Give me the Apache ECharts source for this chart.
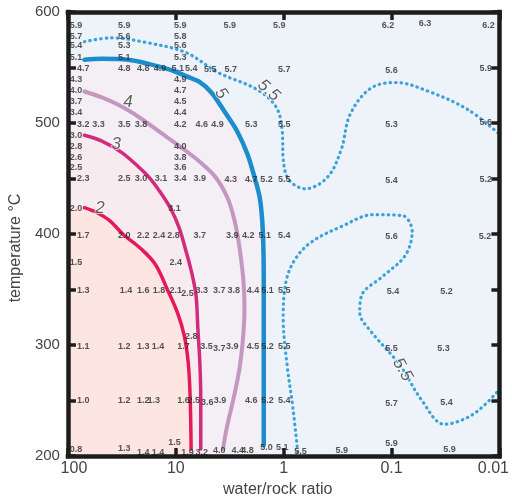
<!DOCTYPE html>
<html><head><meta charset="utf-8">
<script src="https://cdn.jsdelivr.net/npm/echarts@6/dist/echarts.min.js"></script>
<style>html,body{margin:0;padding:0;background:#fff}#c{width:512px;height:503px}</style>
</head><body><div id="c"></div>
<script>
// ---- axis ticks ----
const xTicks = [100, 10, 1, 0.1, 0.01];
const yTicks = [200, 300, 400, 500, 600];

// ---- contour lines: [water/rock ratio, temperature] ----
const contour2 = [[70.3,423.7],[53.7,419.2],[41.0,412.1],[30.7,399.6],[21.2,387],[15.5,372.7],[11.9,349.4],[9.64,328.9],[8.34,308.3],[7.67,284.1],[7.36,252.8],[7.21,206.3]];
const contour3 = [[70.3,489],[48.4,483.7],[32.1,473.8],[22.1,460.4],[17.2,449.7],[13.4,435.3],[10.9,421],[9.25,404.9],[8.17,387],[7.21,367.3],[6.5,345],[6.25,315.4],[6.0,285.9],[5.87,252.8],[5.87,206.3]];
const contour4 = [[70.3,528.4],[48.4,523],[32.1,515],[21.2,504.3],[14.0,491.7],[9.25,479.2],[6.12,465.8],[4.31,451.5],[3.29,431.8],[2.84,411.2],[2.56,387],[2.36,357.5],[2.31,333.3],[2.36,311],[2.56,279.6],[2.9,252.8],[3.36,226],[3.65,206.3]];
const contour5 = [[70.3,557],[48.4,557.9],[27.7,557],[18.3,553.5],[11.4,548.1],[7.84,541.8],[6.12,537.4],[4.68,527.5],[3.5,509.6],[2.67,491.7],[2.17,472],[1.88,452.3],[1.66,431.8],[1.56,402.2],[1.53,357.5],[1.53,297.5],[1.53,209.8]];
const contour55a = [[70.3,573.2],[39.4,576.7],[18.3,572.3],[8.0,563.3],[4.05,545.4],[1.77,530.2],[1.17,514.1],[1.03,491.7],[1.01,467.6],[0.893,448.8],[0.628,440.7],[0.39,451.5],[0.292,476.5],[0.242,507.8],[0.157,531.1],[0.0916,536.5],[0.0453,528.4],[0.0198,512.3],[0.01,489.9]];
const contour55b = [[0.741,203.6],[0.822,243.8],[0.931,282.3],[1.01,324.4],[0.95,357.5],[0.773,378.1],[0.543,393.3],[0.292,406.7],[0.148,417.4],[0.0793,416.6],[0.0644,402.2],[0.0745,380.8],[0.12,362],[0.189,345],[0.197,328.9],[0.157,312.8],[0.0843,282.3],[0.0524,250.1],[0.0325,228.6],[0.0175,237.6],[0.01,260]];

// contour labels: [w/r, T, text, rotation]
const contourLabels = [[50.5,422.8,'2',0],[35.6,481,'3',0],[27.7,518.6,'4',0],[3.8,526.6,'5',-55],[1.38,529.3,'5.5',-42],[0.0793,277.9,'5.5',-60]];

// ---- computed values at grid points: [w/r, T, value] ----
const edgeValues = [[84,588,'5.9'],[84,578,'5.7'],[84,570,'5.4'],[84,559,'5.1'],[72,549,'4.7'],[84,539,'4.3'],[84,529,'4.0'],[84,519,'3.7'],[84,509,'3.4'],[72,499,'3.2'],[84,489,'3.0'],[84,479,'2.8'],[84,469,'2.6'],[84,460,'2.5'],[72,450,'2.3'],[84,423,'2.0'],[72,399,'1.7'],[84,374,'1.5'],[72,349,'1.3'],[72,299,'1.1'],[72,250,'1.0'],[84,206,'0.8']];
const col30Values = [[30,588,'5.9'],[30,578,'5.6'],[30,570,'5.3'],[30,559,'5.1'],[30,549,'4.8'],[30,499,'3.5'],[30,450,'2.5'],[30,399,'2.0'],[29,349,'1.4'],[30,299,'1.2'],[30,250,'1.2'],[30,207,'1.3']];
const col10Values = [[9.1,588,'5.9'],[9.1,578,'5.8'],[9.1,570,'5.6'],[9.1,559,'5.3'],[9.6,549,'5.1'],[9.1,539,'4.9'],[9.1,529,'4.7'],[9.1,519,'4.5'],[9.1,509,'4.4'],[9.1,499,'4.2'],[9.1,479,'4.0'],[9.1,469,'3.8'],[9.1,460,'3.6'],[9.1,450,'3.4'],[10.3,423,'3.1'],[10,374,'2.4']];
const upperValues = [[3.16,588,'5.9'],[1.1,588,'5.9'],[0.108,588,'6.2'],[0.049,590,'6.3'],[0.0126,588,'6.2'],
 [20,549,'4.8'],[14,549,'4.9'],[7.2,549,'5.4'],[4.8,548,'5.5'],[3.1,548,'5.7'],[0.99,548,'5.7'],[0.1,547,'5.6'],[0.0134,549,'5.9'],
 [52,499,'3.3'],[21,499,'3.8'],[5.75,499,'4.6'],[4.1,499,'4.9'],[2.0,499,'5.3'],[0.99,499,'5.5'],[0.1,499,'5.3'],[0.0134,500,'5.6'],
 [21,450,'3.0'],[13.7,450,'3.1'],[6.0,450,'3.9'],[3.1,449,'4.3'],[2.0,449,'4.7'],[1.44,449,'5.2'],[0.99,449,'5.5'],[0.1,448,'5.4'],[0.0134,449,'5.2']];
const lowerValues = [[20,399,'2.2'],[14.3,399,'2.4'],[10.5,399,'2.8'],[6.0,399,'3.7'],[3.0,399,'3.9'],[2.13,399,'4.2'],[1.5,399,'5.1'],[0.99,399,'5.4'],[0.1,398,'5.6'],[0.0136,398,'5.2'],
 [20,349,'1.6'],[14.3,349,'1.8'],[10,349,'2.1'],[7.8,346,'2.5'],[5.75,349,'3.3'],[3.96,349,'3.7'],[2.9,349,'3.8'],[1.92,349,'4.4'],[1.41,349,'5.1'],[0.99,349,'5.5'],[0.097,348,'5.4'],[0.031,348,'5.2'],
 [7.2,308,'2.8'],
 [20,299,'1.3'],[14.6,299,'1.4'],[8.5,299,'1.7'],[5.2,299,'3.5'],[3.96,297,'3.7'],[3.0,299,'3.9'],[1.92,299,'4.5'],[1.41,299,'5.2'],[0.99,299,'5.5'],[0.1,297,'5.5'],[0.033,297,'5.3'],
 [20,250,'1.2'],[16,250,'1.3'],[8.5,250,'1.6'],[6.8,250,'2.5'],[5.1,248,'3.6'],[3.9,250,'3.9'],[2.0,250,'4.6'],[1.41,250,'5.2'],[0.99,250,'5.4'],[0.1,247,'5.7'],[0.031,248,'5.4'],
 [20,203,'1.4'],[14.6,203,'1.4'],[10.3,212,'1.5'],[7.8,203,'1.9'],[5.75,203,'3.2'],[3.96,205,'4.0'],[2.67,205,'4.4'],[2.17,205,'4.8'],[1.44,208,'5.0'],[1.03,208,'5.1'],[0.70,204,'5.5'],[0.29,205,'5.9'],[0.1,211,'5.9'],[0.029,206,'5.9']];

const AX = '#1c1c1c';
const FONT = '"Liberation Sans", Arial, Helvetica, sans-serif';
const chart = echarts.init(document.getElementById('c'), null, {renderer:'canvas'});

function fill(curve, color) {
  const d = [[100, curve[0][1]]].concat(curve, [[curve[curve.length-1][0], 200]]);
  return {type:'line', data:d, smooth:0.35, symbol:'none', silent:true, z:1,
    lineStyle:{width:0, color:color}, areaStyle:{color:color, opacity:1, origin:'start'}};
}
function stroke(curve, color, width, type) {
  return {type:'line', data:curve, smooth:0.35, symbol:'none', silent:true, z:3,
    lineStyle:{color:color, width:width, type:type||'solid', cap:'round', join:'round'}};
}
const allValues = [].concat(edgeValues, col30Values, col10Values, upperValues, lowerValues);

function xFmt(v) {
  const s = String(+Number(v).toPrecision(2));
  if (v > 50) return '{l|' + s + '}';
  if (v < 0.02) return '{r|' + s + '}';
  return s;
}
const tickStyle = {show:true, inside:true, length:8, lineStyle:{color:AX, width:3.5}};
const lineStyleAx = {show:true, onZero:false, lineStyle:{color:AX, width:4.5, cap:'square'}};

chart.setOption({
  animation:false,
  backgroundColor:'#ffffff',
  grid:{left:65, right:2, top:12, bottom:44, show:true, backgroundColor:'#eef3fa', borderWidth:0},
  xAxis:[
    {type:'log', logBase:10, min:0.01, max:100, inverse:true, position:'bottom', z:10,
     axisLine:lineStyleAx, axisTick:tickStyle, splitLine:{show:false}, minorTick:{show:false},
     axisLabel:{formatter:xFmt, fontSize:16, color:'#444', fontFamily:FONT, margin:5,
       rich:{l:{fontSize:16, color:'#444', fontFamily:FONT, padding:[0,0,0,12]}, r:{fontSize:16, color:'#444', fontFamily:FONT, padding:[0,12,0,0]}}},
     name:'water/rock ratio', nameLocation:'middle', nameGap:26,
     nameTextStyle:{fontSize:16, color:'#444', fontFamily:FONT, padding:[0,12,0,0]}},
    {type:'log', logBase:10, min:0.01, max:100, inverse:true, position:'top', z:10,
     axisLine:lineStyleAx, axisTick:tickStyle, splitLine:{show:false}, axisLabel:{show:false}}
  ],
  yAxis:[
    {type:'value', min:200, max:600, interval:50, position:'left', z:10,
     axisLine:lineStyleAx, axisTick:tickStyle, splitLine:{show:false},
     axisLabel:{formatter:function(v){return yTicks.indexOf(v)>=0 ? String(v) : '';}, fontSize:15, color:'#444', fontFamily:FONT, margin:8},
     name:'temperature °C', nameLocation:'middle', nameGap:32, nameRotate:90,
     nameTextStyle:{fontSize:16, color:'#444', fontFamily:FONT, padding:[0,28,0,0]}},
    {type:'value', min:200, max:600, interval:50, position:'right', z:10,
     axisLine:lineStyleAx, axisTick:tickStyle, splitLine:{show:false}, axisLabel:{show:false}}
  ],
  series:[
    fill(contour5, '#f4eef5'),
    fill(contour3, '#f8ebf0'),
    fill(contour2, '#fde5e2'),
    stroke(contour2, '#e4195c', 3.5),
    stroke(contour3, '#d42a7e', 3.5),
    stroke(contour4, '#c597c0', 4),
    stroke(contour5, '#1b8dcd', 4.5),
    stroke(contour55a, '#3aa2da', 3.2, [0.5, 5]),
    stroke(contour55b, '#3aa2da', 3.2, [0.5, 5]),
    {type:'scatter', silent:true, z:5, symbol:'circle', symbolSize:1, itemStyle:{color:'rgba(0,0,0,0)'},
     data:allValues,
     label:{show:true, position:'inside', formatter:function(p){return p.value[2];}, fontSize:9, fontWeight:'bold', color:'#2a2a2a', fontFamily:FONT}},
    {type:'scatter', silent:true, z:6, symbol:'circle', symbolSize:1, itemStyle:{color:'rgba(0,0,0,0)'},
     data:contourLabels.map(function(c){return {value:[c[0],c[1],c[2]], label:{rotate:c[3]}};}),
     label:{show:true, position:'inside', formatter:function(p){return p.value[2];}, fontSize:17, fontStyle:'italic', color:'#3a3a3a', fontFamily:FONT, textBorderColor:'rgba(255,255,255,0.8)', textBorderWidth:2}}
  ]
});
</script></body></html>
